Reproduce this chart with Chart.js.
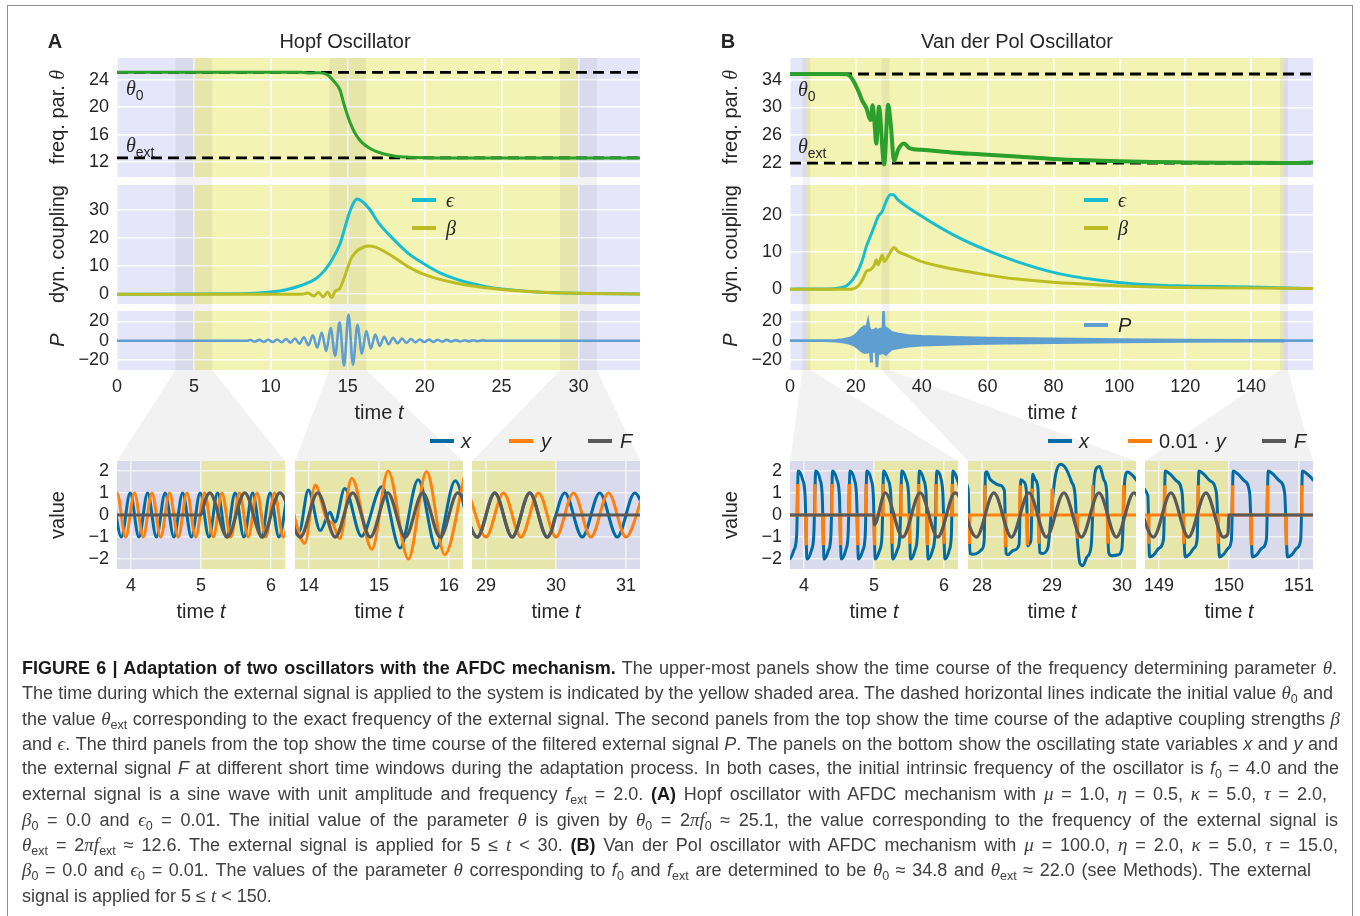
<!DOCTYPE html>
<html lang="en">
<head>
<meta charset="UTF-8">
<title>Adaptation of two oscillators with the AFDC mechanism</title>
<script src="https://cdn.jsdelivr.net/npm/chart.js@4.4.1/dist/chart.umd.min.js"></script>
<style>
  body { margin: 0; background: #fff; }
  #page { position: relative; width: 1360px; height: 916px; overflow: hidden;
          font-family: "Liberation Sans", Arial, sans-serif; color: #262626; }
  #frame { position: absolute; left: 7px; top: 5px; width: 1344px; height: 960px; border: 1px solid #8f8f8f; }
  #bg { position: absolute; left: 0; top: 0; z-index: 0; }
  canvas.plot { position: absolute; z-index: 1; }
  .t { position: absolute; z-index: 2; white-space: nowrap; font-size: 20px; line-height: 1; }
  .c { transform: translate(-50%, -50%); }
  .r { transform: translate(-50%, -50%) rotate(-90deg); }
  .l { transform: translateY(-50%); }
  .sym { font-family: "Liberation Serif", "DejaVu Serif", serif; font-style: italic; }
  .it { font-style: italic; }
  .sub { font-size: 14px; position: relative; top: 5px; font-style: normal;
         font-family: "Liberation Sans", Arial, sans-serif; }
  .key { position: absolute; z-index: 2; height: 4px; width: 24px; }
  #caption { position: absolute; left: 22px; top: 655px; font-size: 18px; color: #404040; z-index: 2; }
  #caption div { height: 25.3px; line-height: 25.3px; white-space: nowrap; width: max-content; }
  #caption b { color: #1a1a1a; }
  #caption .m { font-family: "Liberation Serif", serif; font-style: italic; font-size: 19px; }
  #caption sub { font-size: 12.5px; line-height: 0; vertical-align: -4px; }
</style>
</head>
<body>
<div id="page">
  <div id="frame"></div>
  <canvas id="bg" width="1360" height="916"></canvas>

  <!-- panel A labels -->
  <div class="t c" style="left:55px;top:41px;font-weight:bold">A</div>
  <div class="t c" style="left:345px;top:41px">Hopf Oscillator</div>
  <div class="t r" style="left:57px;top:117px">freq. par. <span class="sym">θ</span></div>
  <div class="t r" style="left:57px;top:244px">dyn. coupling</div>
  <div class="t r it" style="left:57px;top:340px">P</div>
  <div class="t r" style="left:57px;top:515px">value</div>
  <div class="t c" style="left:379px;top:412px">time <i>t</i></div>
  <div class="t l" style="left:126px;top:88px"><span class="sym">θ</span><span class="sub">0</span></div>
  <div class="t l" style="left:126px;top:145px"><span class="sym">θ</span><span class="sub">ext</span></div>
  <div class="key" style="left:412px;top:198px;background:#17becf"></div>
  <div class="t l sym" style="left:446px;top:200px">ϵ</div>
  <div class="key" style="left:412px;top:226px;background:#bcbd22"></div>
  <div class="t l sym" style="left:446px;top:228px">β</div>
  <div class="key" style="left:430px;top:439px;background:#006ba4"></div>
  <div class="t l it" style="left:461px;top:441px">x</div>
  <div class="key" style="left:509px;top:439px;background:#ff800e"></div>
  <div class="t l it" style="left:541px;top:441px">y</div>
  <div class="key" style="left:588px;top:439px;background:#595959"></div>
  <div class="t l it" style="left:620px;top:441px">F</div>
  <div class="t c" style="left:201px;top:611px">time <i>t</i></div>
  <div class="t c" style="left:379px;top:611px">time <i>t</i></div>
  <div class="t c" style="left:556px;top:611px">time <i>t</i></div>

  <!-- panel B labels -->
  <div class="t c" style="left:728px;top:41px;font-weight:bold">B</div>
  <div class="t c" style="left:1017px;top:41px">Van der Pol Oscillator</div>
  <div class="t r" style="left:730px;top:117px">freq. par. <span class="sym">θ</span></div>
  <div class="t r" style="left:730px;top:244px">dyn. coupling</div>
  <div class="t r it" style="left:730px;top:340px">P</div>
  <div class="t r" style="left:730px;top:515px">value</div>
  <div class="t c" style="left:1052px;top:412px">time <i>t</i></div>
  <div class="t l" style="left:798px;top:89px"><span class="sym">θ</span><span class="sub">0</span></div>
  <div class="t l" style="left:798px;top:146px"><span class="sym">θ</span><span class="sub">ext</span></div>
  <div class="key" style="left:1084px;top:198px;background:#17becf"></div>
  <div class="t l sym" style="left:1118px;top:200px">ϵ</div>
  <div class="key" style="left:1084px;top:226px;background:#bcbd22"></div>
  <div class="t l sym" style="left:1118px;top:228px">β</div>
  <div class="key" style="left:1084px;top:323px;background:#5f9ed1"></div>
  <div class="t l it" style="left:1118px;top:325px">P</div>
  <div class="key" style="left:1048px;top:439px;background:#006ba4"></div>
  <div class="t l it" style="left:1079px;top:441px">x</div>
  <div class="key" style="left:1128px;top:439px;background:#ff800e"></div>
  <div class="t l" style="left:1159px;top:441px">0.01 · <i>y</i></div>
  <div class="key" style="left:1262px;top:439px;background:#595959"></div>
  <div class="t l it" style="left:1294px;top:441px">F</div>
  <div class="t c" style="left:874px;top:611px">time <i>t</i></div>
  <div class="t c" style="left:1052px;top:611px">time <i>t</i></div>
  <div class="t c" style="left:1229px;top:611px">time <i>t</i></div>

  <div id="caption">
    <div><b>FIGURE 6 | Adaptation of two oscillators with the AFDC mechanism.</b> The upper-most panels show the time course of the frequency determining parameter <span class="m">θ</span>.</div>
    <div>The time during which the external signal is applied to the system is indicated by the yellow shaded area. The dashed horizontal lines indicate the initial value <span class="m">θ</span><sub>0</sub> and</div>
    <div>the value <span class="m">θ</span><sub>ext</sub> corresponding to the exact frequency of the external signal. The second panels from the top show the time course of the adaptive coupling strengths <span class="m">β</span></div>
    <div>and <span class="m">ϵ</span>. The third panels from the top show the time course of the filtered external signal <i>P</i>. The panels on the bottom show the oscillating state variables <i>x</i> and <i>y</i> and</div>
    <div>the external signal <i>F</i> at different short time windows during the adaptation process. In both cases, the initial intrinsic frequency of the oscillator is <i>f</i><sub>0</sub> = 4.0 and the</div>
    <div>external signal is a sine wave with unit amplitude and frequency <i>f</i><sub>ext</sub> = 2.0. <b>(A)</b> Hopf oscillator with AFDC mechanism with <span class="m">μ</span> = 1.0, <span class="m">η</span> = 0.5, <span class="m">κ</span> = 5.0, <span class="m">τ</span> = 2.0,</div>
    <div><span class="m">β</span><sub>0</sub> = 0.0 and <span class="m">ϵ</span><sub>0</sub> = 0.01. The initial value of the parameter <span class="m">θ</span> is given by <span class="m">θ</span><sub>0</sub> = 2<span class="m">πf</span><sub>0</sub> ≈ 25.1, the value corresponding to the frequency of the external signal is</div>
    <div><span class="m">θ</span><sub>ext</sub> = 2<span class="m">πf</span><sub>ext</sub> ≈ 12.6. The external signal is applied for 5 ≤ <span class="m">t</span> &lt; 30. <b>(B)</b> Van der Pol oscillator with AFDC mechanism with <span class="m">μ</span> = 100.0, <span class="m">η</span> = 2.0, <span class="m">κ</span> = 5.0, <span class="m">τ</span> = 15.0,</div>
    <div><span class="m">β</span><sub>0</sub> = 0.0 and <span class="m">ϵ</span><sub>0</sub> = 0.01. The values of the parameter <span class="m">θ</span> corresponding to <i>f</i><sub>0</sub> and <i>f</i><sub>ext</sub> are determined to be <span class="m">θ</span><sub>0</sub> ≈ 34.8 and <span class="m">θ</span><sub>ext</sub> ≈ 22.0 (see Methods). The external</div>
    <div>signal is applied for 5 ≤ <span class="m">t</span> &lt; 150.</div>
  </div>
</div>

<script>
// ---- time axes, forcing intervals and zoom windows ----
const tRangeA = [0, 34];
const tRangeB = [0, 158.8];
const forcingA = [5, 30];
const forcingB = [5, 150];
const windowsA = [[3.8, 6.2], [13.8, 16.2], [28.8, 31.2]];
const windowsB = [[3.8, 6.2], [27.8, 30.2], [148.8, 151.2]];

// ---- tick labels ----
const ticksTimeA = [0, 5, 10, 15, 20, 25, 30];
const ticksTimeB = [0, 20, 40, 60, 80, 100, 120, 140];
const ticksThetaA = [12, 16, 20, 24];
const ticksThetaB = [22, 26, 30, 34];
const ticksCouplingA = [0, 10, 20, 30];
const ticksCouplingB = [0, 10, 20];
const ticksP = [-20, 0, 20];
const ticksValue = [-2, -1, 0, 1, 2];
const ticksWinA = [[4, 5, 6], [14, 15, 16], [29, 30, 31]];
const ticksWinB = [[4, 5, 6], [28, 29, 30], [149, 150, 151]];

// ---- value ranges ----
const yThetaA = [9.8, 27.2];
const yThetaB = [20, 37.1];
const yCouplingA = [-3.5, 39];
const yCouplingB = [-4, 28];
const yP = [-30, 30.6];
const yValue = [-2.45, 2.45];

// ---- reference levels of theta ----
const theta0A = 25.1, thetaExtA = 12.6;
const theta0B = 34.8, thetaExtB = 22.0;

// ---- Hopf oscillator ----
const tThetaA = [0, 10, 12, 12.6, 13.2, 13.7, 14.1, 14.5, 14.7, 14.9, 15.2, 15.5, 15.9, 16.5, 17.3, 18.1, 19, 20, 22, 34];
const thetaA = [25.13, 25.13, 25.1, 25.02, 25.06, 24.7, 23.8, 22.5, 20.9, 19.4, 17.5, 16.1, 14.9, 13.9, 13.2, 12.85, 12.7, 12.62, 12.58, 12.57];

const tEpsA = [0, 8, 10, 11, 12, 12.9, 13.5, 14, 14.5, 14.8, 15.1, 15.4, 15.6, 15.9, 16.4, 17, 18, 19, 20, 21, 22, 23, 24, 25, 27, 30, 34];
const epsA = [0, 0.2, 0.8, 1.6, 3.2, 5.4, 8.5, 12.5, 18, 23.5, 29, 32.8, 34, 33.3, 30.5, 25.5, 19.5, 14.3, 10.7, 7.6, 5.5, 3.9, 2.7, 1.9, 0.9, 0.3, 0.1];

const tBetaA = [0, 12, 12.4, 12.8, 13.1, 13.4, 13.7, 13.95, 14.2, 14.45, 14.7, 15, 15.2, 15.5, 15.8, 16.3, 16.8, 17.3, 18, 19, 20, 21, 22, 23, 24, 25, 27, 30, 34];
const betaA = [0, 0, 0.4, -0.6, 0.6, -0.9, 0.8, -1.2, 1.2, 1.8, 4.8, 9.5, 12.5, 14.9, 16.2, 17.2, 16.8, 15.5, 13.2, 9.6, 7, 5.3, 4, 3, 2.3, 1.7, 0.9, 0.3, 0.1];

// filtered signal P: successive extremes
const tPA = [0, 8.4, 8.67, 8.96, 9.25, 9.54, 9.83, 10.12, 10.41, 10.7, 10.99, 11.28, 11.57, 11.86, 12.15, 12.44, 12.73,
  13.02, 13.31, 13.6, 13.89, 14.18, 14.47, 14.76, 15.05, 15.34, 15.63, 15.92, 16.21, 16.5, 16.79, 17.08, 17.37, 17.66,
  17.95, 18.24, 18.53, 18.82, 19.11, 19.4, 19.69, 19.98, 20.27, 20.56, 20.85, 21.14, 21.43, 21.72, 22.01, 22.3, 22.59,
  22.88, 23.17, 23.46, 23.75, 24.1, 34];
const pA = [0, 0, 0.8, -0.8, 0.9, -1, 1, -1.2, 1.3, -1.5, 1.7, -2, 2.4, -2.9, 3.6, -4.5, 5.6,
  -7, 8.5, -10.5, 13, -15.5, 19, -25.5, 27, -24.5, 16.5, -13, 10, -8, 6.5, -5.2, 4.2, -3.5,
  3, -2.6, 2.3, -2, 1.8, -1.6, 1.4, -1.3, 1.2, -1.1, 1, -0.9, 0.9, -0.8, 0.7, -0.7, 0.6,
  -0.6, 0.5, -0.5, 0.4, 0, 0];

// state variables, window 1 (extremes)
const tXA1 = [3.7375, 3.8625, 3.9875, 4.1125, 4.2375, 4.3625, 4.4875, 4.6125, 4.7375, 4.8625, 4.9875, 5.1125, 5.2375, 5.3625, 5.4875, 5.6125, 5.7375, 5.8625, 5.9875, 6.1125, 6.2375];
const xA1 = [1, -1, 1, -1, 1, -1, 1, -1, 1, -1, 1, -1, 1, -1, 1, -1, 1, -1, 1, -1, 1];
const tYA1 = [3.675, 3.8, 3.925, 4.05, 4.175, 4.3, 4.425, 4.55, 4.675, 4.8, 4.925, 5.05, 5.175, 5.3, 5.425, 5.55, 5.675, 5.8, 5.925, 6.05, 6.175, 6.3];
const yA1 = [-1, 1, -1, 1, -1, 1, -1, 1, -1, 1, -1, 1, -1, 1, -1, 1, -1, 1, -1, 1, -1, 1];
const tFA1 = [3.7, 5, 5.0625, 5.125, 5.375, 5.625, 5.875, 6.125, 6.375];
const fA1 = [0, 0, 0.7, 1, -1, 1, -1, 1, -1];

// window 2
const tXA2 = [13.72, 13.86, 13.99, 14.16, 14.3, 14.37, 14.51, 14.75, 15.04, 15.3, 15.56, 15.82, 16.09, 16.33];
const xA2 = [0.9, -0.75, 1.13, -0.7, 0.12, -0.33, 1.2, -0.96, 1.28, -1.5, 1.6, -1.5, 1.55, -1.4];
const tYA2 = [13.7, 13.94, 14.09, 14.26, 14.33, 14.44, 14.61, 14.9, 15.13, 15.42, 15.68, 15.94, 16.22];
const yA2 = [1.0, -1.28, 1.36, -0.25, -0.35, -1.07, 1.67, -1.55, 2.0, -2.0, 1.97, -1.8, 1.75];
const tFA2 = [13.625, 13.875, 14.125, 14.375, 14.625, 14.875, 15.125, 15.375, 15.625, 15.875, 16.125, 16.375];
const fA2 = [1, -1, 1, -1, 1, -1, 1, -1, 1, -1, 1, -1];

// window 3
const tXA3 = [28.625, 28.875, 29.125, 29.375, 29.625, 29.875, 30.125, 30.375, 30.625, 30.875, 31.125, 31.375];
const xA3 = [1, -1, 1, -1, 1, -1, 1, -1, 1, -1, 1, -1];
const tYA3 = [28.75, 29, 29.25, 29.5, 29.75, 30, 30.25, 30.5, 30.75, 31, 31.25];
const yA3 = [1, -1, 1, -1, 1, -1, 1, -1, 1, -1, 1];
const tFA3 = [28.625, 28.875, 29.125, 29.375, 29.625, 29.875, 29.9375, 30, 31.3];
const fA3 = [1, -1, 1, -1, 1, -1, -0.71, 0, 0];

// ---- Van der Pol oscillator ----
const tThetaB = [0, 15, 17.2, 19, 20.8, 22, 23.2, 24.4, 25.1, 25.7, 26.2, 27, 28.6, 29.8, 30.6, 31.6, 32.8, 34.6, 36.4, 40, 50, 60, 70, 80, 90, 100, 110, 120, 135, 150, 158.8];
const thetaB = [34.8, 34.8, 34.75, 34, 32.3, 30.9, 29.9, 28.2, 30.3, 27.5, 24.8, 30.1, 21.8, 30.4, 27.5, 22.3, 23.9, 24.8, 24.1, 23.9, 23.5, 23.2, 22.9, 22.6, 22.4, 22.25, 22.15, 22.1, 22.05, 22, 22.1];

const tEpsB = [0, 12, 14.8, 17.2, 19, 20.8, 22, 23.2, 24.4, 25.6, 26.8, 28, 29.2, 30.4, 31.3, 32.8, 40, 49.6, 59.3, 68.9, 80.9, 92.9, 104.9, 117, 140, 150.6, 158.8];
const epsB = [0, 0.05, 0.3, 0.9, 2.5, 5.2, 7.9, 11.5, 14.2, 16.9, 19.6, 20.9, 23.6, 25.4, 25.4, 24, 19.6, 14.6, 10.6, 7.4, 4.3, 2.5, 1.35, 0.9, 0.55, 0.3, 0.15];

const tBetaB = [0, 18.5, 20.8, 22, 23.2, 24.4, 25.6, 26.2, 26.8, 28, 28.6, 30.2, 31.6, 32.8, 35.2, 40, 49.6, 59.3, 68.9, 80.9, 92.9, 104.9, 117, 140, 158.8];
const betaB = [0, 0, 0.9, 2.5, 4.8, 5.2, 6.5, 7.9, 6.5, 9.2, 7.4, 9.5, 11.2, 10.1, 9.2, 7.4, 5.4, 3.9, 2.7, 1.8, 1.2, 0.7, 0.45, 0.3, 0.2];

// P oscillates too fast to resolve here: upper and lower envelope
const tPB = [0, 10, 14, 16, 18, 19.5, 20.5, 21.5, 22.5, 23.4, 23.7, 24, 24.4, 24.6, 24.8, 25.5, 26.1, 26.4, 26.7, 27.5,
  28.2, 28.4, 28.6, 29.2, 30, 31, 33, 36, 40, 50, 60, 80, 100, 120, 140, 149.9, 150.1, 158.8];
const pUpperB = [0, 0, 0.4, 1.2, 2.5, 5, 8, 12, 14.5, 15, 20, 14, 11, 10, 10, 11, 12, 10, 11, 12,
  12, 31, 13, 13, 11, 8.5, 7, 5.5, 4.5, 3.5, 2.8, 2, 1.3, 0.8, 0.5, 0.4, 0, 0];
const pLowerB = [0, 0, -0.4, -1.2, -2.5, -4.5, -7, -10, -12, -12, -11, -11, -12, -21, -12, -10, -12, -27, -13, -13,
  -12, -12, -13, -14, -11, -8.5, -7, -5.5, -4.5, -3.5, -2.8, -2, -1.3, -0.8, -0.5, -0.4, 0, 0];

// window 1: relaxation cycles of x, spikes of 0.01*y at the jumps
const tXB1 = [3.7, 3.765, 3.793, 3.855, 3.895, 3.918, 3.98, 4.015, 4.043, 4.105, 4.14, 4.168, 4.23, 4.26, 4.288, 4.35, 4.385,
  4.408, 4.47, 4.505, 4.533, 4.595, 4.63, 4.658, 4.72, 4.75, 4.778, 4.84, 4.875, 4.898, 4.96, 4.99, 5.018, 5.08, 5.115,
  5.138, 5.2, 5.24, 5.268, 5.33, 5.37, 5.398, 5.46, 5.495, 5.523, 5.585, 5.62, 5.648, 5.71, 5.745, 5.773, 5.835, 5.87,
  5.898, 5.96, 5.985, 6.013, 6.075, 6.105, 6.128, 6.19, 6.23, 6.258];
const xB1 = [1.6, 0.9, -2, -1.6, -0.9, 2, 1.6, 0.9, -2, -1.6, -0.9, 2, 1.6, 0.9, -2, -1.6, -0.9,
  2, 1.6, 0.9, -2, -1.6, -0.9, 2, 1.6, 0.9, -2, -1.6, -0.9, 2, 1.6, 0.9, -2, -1.6, -0.9,
  2, 1.6, 0.9, -2, -1.6, -0.9, 2, 1.6, 0.9, -2, -1.6, -0.9, 2, 1.6, 0.9, -2, -1.6, -0.9,
  2, 1.6, 0.9, -2, -1.6, -0.9, 2, 1.6, 0.9, -2];
const tSpikeB1 = [3.779, 3.906, 4.029, 4.154, 4.274, 4.396, 4.519, 4.644, 4.764, 4.886, 5.004, 5.126, 5.254, 5.384, 5.509, 5.634, 5.759, 5.884, 5.999, 6.116, 6.244];
const ySpikeB1 = [-1.3, 1.4, -1.3, 1.4, -1.3, 1.4, -1.3, 1.4, -1.3, 1.4, -1.3, 1.4, -1.3, 1.4, -1.3, 1.4, -1.3, 1.4, -1.3, 1.4, -1.3];
const tFB1 = [3.7, 5, 5.004, 5.16, 5.41, 5.66, 5.91, 6.16, 6.41];
const fB1 = [0, 0, -0.45, 1, -1, 1, -1, 1, -1];

// window 2: irregular cycles while locking
const tXB2 = [27.75, 27.8, 27.83, 27.87, 27.95, 28.0, 28.03, 28.05, 28.07, 28.11, 28.16, 28.25, 28.32, 28.345, 28.37,
  28.45, 28.53, 28.555, 28.6, 28.635, 28.655, 28.68, 28.7, 28.725, 28.76, 28.8, 28.825, 28.86, 28.94, 29.0, 29.05,
  29.12, 29.2, 29.28, 29.33, 29.36, 29.4, 29.44, 29.5, 29.56, 29.6, 29.63, 29.68, 29.74, 29.78, 29.81, 29.85, 29.95,
  30.0, 30.04, 30.08, 30.15, 30.25];
const xB2 = [1.5, 1.2, -1.75, -1.78, -1.7, -1.55, -1.2, 1.9, 1.96, 1.65, 1.5, 1.35, 1.1, -1.75, -1.8,
  -1.6, -1.35, 1.6, 1.5, 1.05, -1.4, -1.3, -1.1, 1.85, 1.6, 1.2, -1.7, -1.75, -1.5, 0.5, 1.8,
  2.3, 2.1, 1.5, 0.9, -1.0, -2.2, -2.3, -1.9, -1.4, 1.5, 2.1, 2.2, 1.6, 1.1, -1.7, -1.85, -1.8,
  -1.5, 1.6, 1.95, 1.8, 1.4];
const tSpikeB2 = [27.815, 28.04, 28.333, 28.543, 28.645, 28.712, 28.812, 29.0, 29.36, 29.58, 29.795, 30.02];
const ySpikeB2 = [-1.25, 1.35, -1.4, 1.35, -1.3, 1.2, -1.3, 1.2, -1.0, 1.35, -1.3, 1.35];
const tFB2 = [27.67, 27.92, 28.17, 28.42, 28.67, 28.92, 29.17, 29.42, 29.67, 29.92, 30.17, 30.42];
const fB2 = [1, -1, 1, -1, 1, -1, 1, -1, 1, -1, 1, -1];

// window 3: adapted cycles around the end of the forcing
const tXB3 = [148.7, 148.84, 148.865, 148.93, 149.0, 149.065, 149.09, 149.16, 149.25, 149.33, 149.375, 149.43, 149.5, 149.545,
  149.57, 149.64, 149.73, 149.82, 149.865, 149.92, 149.99, 150.035, 150.06, 150.13, 150.22, 150.295, 150.335, 150.4,
  150.47, 150.535, 150.56, 150.63, 150.72, 150.795, 150.835, 150.9, 150.97, 151.025, 151.05, 151.12, 151.21, 151.3];
const xB3 = [1.3, 0.9, -1.9, -1.8, -1.5, -1.1, 2, 1.85, 1.55, 1.0, -1.9, -1.8, -1.5, -1.1,
  2, 1.85, 1.55, 1.0, -1.9, -1.8, -1.5, -1.1, 2, 1.85, 1.55, 1.0, -1.9, -1.8,
  -1.5, -1.1, 2, 1.85, 1.55, 1.0, -1.9, -1.8, -1.5, -1.1, 2, 1.85, 1.55, 1.0];
const tSpikeB3 = [148.852, 149.078, 149.352, 149.558, 149.842, 150.048, 150.315, 150.548, 150.815, 151.038];
const ySpikeB3 = [-1.3, 1.35, -1.3, 1.35, -1.3, 1.35, -1.3, 1.35, -1.3, 1.35];
const tFB3 = [148.67, 148.92, 149.17, 149.42, 149.67, 149.92, 149.985, 150, 151.3];
const fB3 = [1, -1, 1, -1, 1, -1, -0.85, 0, 0];

// ---- look ----
const LAVENDER = '#e6e6fa', YELLOW = '#f3f3b4', TINT = 'rgba(0,0,0,0.05)';
const C_THETA = '#2ca02c', C_EPS = '#17becf', C_BETA = '#bcbd22', C_P = '#5f9ed1';
const C_X = '#006ba4', C_Y = '#ff800e', C_F = '#595959';

const COL_A = 117, COL_B = 790, COL_W = 523, PAD_R = 24;
const WIN_A = [117, 295, 472], WIN_B = [790, 968, 1145], WIN_W = 168;
const ROW_THETA = { top: 58, h: 119 }, ROW_COUP = { top: 185, h: 119 };
const ROW_P = { top: 311, h: 59 }, ROW_WIN = { top: 461, h: 108 };

// right ends of the caption lines (ragged right), last line stays natural
const CAPTION_LEFT = 22;
const captionEnds = [1337, 1333, 1340, 1338, 1339, 1327, 1338, 1338, 1311];

Chart.defaults.font.family = '"Liberation Sans", Arial, sans-serif';
Chart.defaults.color = '#262626';

// plot background: axes colour, forcing interval, highlighted zoom windows
Chart.register({
  id: 'shade',
  beforeDraw(chart) {
    const o = chart.canvas._shade;
    if (!o) return;
    const { ctx, chartArea: a } = chart, sx = chart.scales.x;
    ctx.save();
    ctx.fillStyle = LAVENDER;
    ctx.fillRect(a.left, a.top, a.width, a.height);
    const x0 = Math.max(a.left, sx.getPixelForValue(o.forcing[0]));
    const x1 = Math.min(a.right, sx.getPixelForValue(o.forcing[1]));
    if (x1 > x0) { ctx.fillStyle = YELLOW; ctx.fillRect(x0, a.top, x1 - x0, a.height); }
    ctx.restore();
  },
  beforeDatasetsDraw(chart) {
    const o = chart.canvas._shade;
    if (!o) return;
    const { ctx, chartArea: a } = chart, sx = chart.scales.x;
    ctx.save();
    ctx.fillStyle = TINT;
    if (o.full) ctx.fillRect(a.left, a.top, a.width, a.height);
    (o.windows || []).forEach(w => {
      const x0 = Math.max(a.left, sx.getPixelForValue(w[0]));
      const x1 = Math.min(a.right, sx.getPixelForValue(w[1]));
      if (x1 > x0) ctx.fillRect(x0, a.top, x1 - x0, a.height);
    });
    ctx.restore();
  }
});

const page = document.getElementById('page');

function pts(ts, vs) { return ts.map((t, i) => ({ x: t, y: vs[i] })); }

function spikes(ts, vs, range) {
  const out = [{ x: range[0] - 0.1, y: 0 }];
  ts.forEach((t, i) => out.push({ x: t - 0.007, y: 0 }, { x: t, y: vs[i] }, { x: t + 0.007, y: 0 }));
  out.push({ x: range[1] + 0.1, y: 0 });
  return out;
}

function curve(data, color, width, extra) {
  return Object.assign({
    data, borderColor: color, backgroundColor: color, borderWidth: width,
    pointRadius: 0, fill: false, clip: 0, cubicInterpolationMode: 'monotone'
  }, extra || {});
}

function level(v, range) {
  return curve([{ x: range[0], y: v }, { x: range[1], y: v }], '#000000', 2.8,
    { borderDash: [11, 6], cubicInterpolationMode: 'default' });
}

function fmtTick(v) { return v < 0 ? '\u2212' + (-v) : String(v); }

function axis(ticks, range, show, size, horizontal) {
  return {
    type: 'linear', min: range[0], max: range[1],
    grid: { color: '#ffffff', lineWidth: 1.6, drawTicks: false },
    border: { display: false },
    ticks: { display: show, padding: horizontal ? 6 : 8, font: { size: 18 }, color: '#262626',
             maxRotation: 0, autoSkip: false, callback: fmtTick },
    afterBuildTicks: ax => { ax.ticks = ticks.map(v => ({ value: v })); },
    afterFit: ax => {
      if (horizontal) ax.height = size; else ax.width = size;
      ax.paddingTop = ax.paddingBottom = ax.paddingLeft = ax.paddingRight = 0;
    }
  };
}

// one axes box: plot area at (left, row.top) of size w x row.h
function plot(left, w, row, yw, xh, xTicks, xRange, yTicks, yRange, showY, datasets, shade) {
  const cv = document.createElement('canvas');
  cv.className = 'plot';
  cv.width = yw + w + PAD_R;
  cv.height = row.h + xh;
  cv.style.left = (left - yw) + 'px';
  cv.style.top = row.top + 'px';
  cv._shade = shade;
  page.appendChild(cv);
  return new Chart(cv, {
    type: 'line',
    data: { datasets },
    options: {
      responsive: false, animation: false, devicePixelRatio: 1,
      layout: { padding: { left: 0, right: PAD_R, top: 0, bottom: 0 } },
      plugins: { legend: { display: false }, tooltip: { enabled: false } },
      scales: {
        x: axis(xTicks, xRange, xh > 0, xh, true),
        y: axis(yTicks, yRange, showY, yw, false)
      }
    }
  });
}

// ---- panel A ----
const shadeA = { forcing: forcingA, windows: windowsA };
const thA = plot(COL_A, COL_W, ROW_THETA, 70, 0, ticksTimeA, tRangeA, ticksThetaA, yThetaA, true, [
  curve(pts(tThetaA, thetaA), C_THETA, 3),
  level(theta0A, tRangeA), level(thetaExtA, tRangeA)
], shadeA);
plot(COL_A, COL_W, ROW_COUP, 70, 0, ticksTimeA, tRangeA, ticksCouplingA, yCouplingA, true, [
  curve(pts(tBetaA, betaA), C_BETA, 3),
  curve(pts(tEpsA, epsA), C_EPS, 3)
], shadeA);
const pAChart = plot(COL_A, COL_W, ROW_P, 70, 40, ticksTimeA, tRangeA, ticksP, yP, true, [
  curve(pts(tPA, pA), C_P, 2.6)
], shadeA);

const winDataA = [
  [pts(tFA1, fA1), pts(tYA1, yA1), pts(tXA1, xA1)],
  [pts(tFA2, fA2), pts(tYA2, yA2), pts(tXA2, xA2)],
  [pts(tFA3, fA3), pts(tYA3, yA3), pts(tXA3, xA3)]
];
const winChartsA = windowsA.map((w, k) => plot(WIN_A[k], WIN_W, ROW_WIN, k === 0 ? 70 : 20, 40,
  ticksWinA[k], w, ticksValue, yValue, k === 0, [
    curve(winDataA[k][0], C_F, 3.2),
    curve(winDataA[k][1], C_Y, 3),
    curve(winDataA[k][2], C_X, 3)
  ], { forcing: forcingA, windows: [], full: true }));

// ---- panel B ----
const shadeB = { forcing: forcingB, windows: windowsB };
const thB = plot(COL_B, COL_W, ROW_THETA, 70, 0, ticksTimeB, tRangeB, ticksThetaB, yThetaB, true, [
  curve(pts(tThetaB, thetaB), C_THETA, 4),
  level(theta0B, tRangeB), level(thetaExtB, tRangeB)
], shadeB);
plot(COL_B, COL_W, ROW_COUP, 70, 0, ticksTimeB, tRangeB, ticksCouplingB, yCouplingB, true, [
  curve(pts(tBetaB, betaB), C_BETA, 3),
  curve(pts(tEpsB, epsB), C_EPS, 3)
], shadeB);
const pBChart = plot(COL_B, COL_W, ROW_P, 70, 40, ticksTimeB, tRangeB, ticksP, yP, true, [
  curve(pts(tPB, pUpperB), C_P, 2.6, { fill: '+1', cubicInterpolationMode: 'default' }),
  curve(pts(tPB, pLowerB), C_P, 2.6, { cubicInterpolationMode: 'default' })
], shadeB);

const winDataB = [
  [pts(tFB1, fB1), spikes(tSpikeB1, ySpikeB1, windowsB[0]), pts(tXB1, xB1)],
  [pts(tFB2, fB2), spikes(tSpikeB2, ySpikeB2, windowsB[1]), pts(tXB2, xB2)],
  [pts(tFB3, fB3), spikes(tSpikeB3, ySpikeB3, windowsB[2]), pts(tXB3, xB3)]
];
const winChartsB = windowsB.map((w, k) => plot(WIN_B[k], WIN_W, ROW_WIN, k === 0 ? 70 : 20, 40,
  ticksWinB[k], w, ticksValue, yValue, k === 0, [
    curve(winDataB[k][0], C_F, 3.2),
    curve(winDataB[k][1], C_Y, 3, { cubicInterpolationMode: 'default' }),
    curve(winDataB[k][2], C_X, 3)
  ], { forcing: forcingB, windows: [], full: true }));

// ---- grey funnels from the zoom windows to the lower panels ----
const bg = document.getElementById('bg').getContext('2d');
bg.fillStyle = TINT;
function funnel(top, pc, panel, w) {
  const sx = pc.scales.x;
  const x0 = pc.canvas.offsetLeft + sx.getPixelForValue(w[0]);
  const x1 = pc.canvas.offsetLeft + sx.getPixelForValue(w[1]);
  const yTop = top.canvas.offsetTop + top.chartArea.top;
  const yBot = pc.canvas.offsetTop + pc.chartArea.bottom;
  const a = panel.chartArea, ql = panel.canvas.offsetLeft, qt = panel.canvas.offsetTop;
  bg.beginPath();
  bg.moveTo(x0, yTop); bg.lineTo(x1, yTop); bg.lineTo(x1, yBot);
  bg.lineTo(ql + a.right, qt + a.top); bg.lineTo(ql + a.left, qt + a.top);
  bg.lineTo(x0, yBot); bg.closePath(); bg.fill();
}
windowsA.forEach((w, k) => funnel(thA, pAChart, winChartsA[k], w));
windowsB.forEach((w, k) => funnel(thB, pBChart, winChartsB[k], w));

// ---- caption: stretch the word gaps so each line ends where it should ----
document.querySelectorAll('#caption div').forEach((line, i) => {
  if (i >= captionEnds.length) return;
  const natural = line.getBoundingClientRect().width;
  const gaps = (line.textContent.trim().match(/\s+/g) || []).length;
  if (gaps) line.style.wordSpacing = ((captionEnds[i] - CAPTION_LEFT - natural) / gaps) + 'px';
});
</script>
</body>
</html>
